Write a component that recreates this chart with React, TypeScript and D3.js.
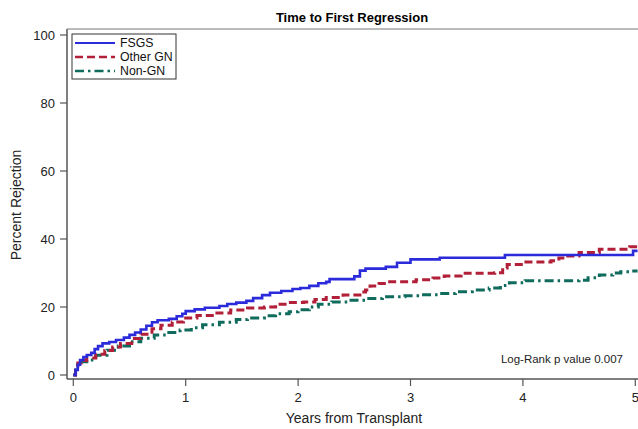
// App.tsx
import React, { useEffect, useRef } from 'react';
import * as d3 from 'd3';

// years since transplant / cumulative percent
const fsgsYears = [0, 0.02, 0.04, 0.06, 0.09, 0.12, 0.16, 0.19, 0.22, 0.26, 0.32, 0.38, 0.45, 0.5, 0.55, 0.6, 0.65, 0.7, 0.75, 0.85, 0.92, 0.97, 1.0, 1.08, 1.17, 1.3, 1.37, 1.45, 1.54, 1.6, 1.68, 1.75, 1.85, 1.95, 2.02, 2.1, 2.18, 2.25, 2.28, 2.5, 2.55, 2.6, 2.78, 2.88, 3.0, 3.26, 3.84, 4.98, 5.02];
const fsgsPct = [0, 1.5, 3.0, 4.4, 5.3, 5.9, 6.5, 7.6, 8.5, 9.3, 9.7, 10.3, 11.0, 11.8, 12.5, 13.4, 14.5, 15.5, 16.1, 16.5, 17.3, 18.0, 18.8, 19.3, 19.8, 20.3, 20.9, 21.3, 21.8, 22.6, 23.5, 24.2, 24.7, 25.3, 25.6, 26.2, 27.0, 27.4, 28.2, 29.0, 30.7, 31.3, 31.8, 33.0, 34.0, 34.5, 35.3, 36.5, 36.5];

const otherYears = [0, 0.02, 0.04, 0.07, 0.12, 0.2, 0.28, 0.35, 0.42, 0.52, 0.6, 0.7, 0.78, 0.88, 0.98, 1.1, 1.25, 1.4, 1.55, 1.7, 1.8, 1.9, 2.05, 2.15, 2.25, 2.4, 2.55, 2.6, 2.64, 2.72, 2.8, 3.05, 3.2, 3.3, 3.45, 3.75, 3.82, 3.86, 4.0, 4.25, 4.32, 4.38, 4.5, 4.68, 4.95, 5.02];
const otherPct = [0, 1.8, 3.5, 4.3, 5.0, 6.1, 7.2, 8.2, 9.3, 10.7, 12.0, 13.6, 14.6, 15.6, 16.8, 17.5, 18.2, 19.1, 19.7, 20.0, 20.8, 21.3, 21.5, 22.2, 22.8, 23.5, 24.4, 25.0, 26.2, 26.9, 27.4, 28.0, 28.5, 29.1, 29.9, 30.1, 31.5, 32.5, 33.2, 33.6, 34.4, 35.0, 36.0, 37.0, 37.7, 37.7];

const nonGnYears = [0, 0.02, 0.04, 0.07, 0.12, 0.2, 0.3, 0.4, 0.5, 0.6, 0.72, 0.85, 0.95, 1.05, 1.15, 1.3, 1.45, 1.55, 1.7, 1.8, 1.92, 2.0, 2.1, 2.18, 2.3, 2.45, 2.6, 2.75, 2.95, 3.1, 3.25, 3.4, 3.55, 3.7, 3.8, 3.88, 4.02, 4.18, 4.5, 4.58, 4.68, 4.8, 4.87, 4.97, 5.02];
const nonGnPct = [0, 1.5, 3.0, 3.9, 4.4, 5.8, 7.3, 8.5, 9.8, 10.8, 11.8, 12.5, 13.2, 13.9, 14.8, 15.5, 16.3, 16.8, 17.4, 18.0, 18.6, 19.2, 20.0, 20.8, 21.5, 22.0, 22.5, 23.0, 23.3, 23.6, 24.0, 24.5, 25.0, 25.6, 26.3, 27.1, 27.7, 27.7, 27.9, 28.6, 29.4, 30.0, 30.4, 30.6, 30.6];

const groupNames = ['FSGS', 'Other GN', 'Non-GN'];
const xTicks = [0, 1, 2, 3, 4, 5];
const yTicks = [0, 20, 40, 60, 80, 100];

const App = () => {
  const svgRef = useRef(null);

  useEffect(() => {
    const width = 638;
    const height = 429;
    const font = 'Liberation Sans, Arial, sans-serif';
    const axisColor = '#555';

    const svg = d3.select(svgRef.current);
    svg.selectAll('*').remove();
    svg.attr('width', width).attr('height', height);

    const x = d3.scaleLinear().domain([0, 5]).range([73.3, 635.3]);
    const y = d3.scaleLinear().domain([0, 100]).range([375, 35]);

    const series = [
      { name: groupNames[0], t: fsgsYears, v: fsgsPct, color: '#2b2bdc', width: 2.6, dash: null },
      { name: groupNames[1], t: otherYears, v: otherPct, color: '#b11f38', width: 3, dash: '8,4' },
      { name: groupNames[2], t: nonGnYears, v: nonGnPct, color: '#0f6b5c', width: 3, dash: '9,4,2.5,4' },
    ];

    // title
    svg.append('text')
      .attr('x', 352).attr('y', 22)
      .attr('text-anchor', 'middle')
      .attr('font-family', font).attr('font-size', 13).attr('font-weight', 'bold')
      .text('Time to First Regression');

    // frame: left axis, bottom axis, top border
    const left = 67;
    const bottom = 379;
    const top = 29;
    svg.append('line').attr('x1', left).attr('x2', left).attr('y1', top).attr('y2', bottom)
      .attr('stroke', axisColor).attr('stroke-width', 1.5);
    svg.append('line').attr('x1', left).attr('x2', width).attr('y1', bottom).attr('y2', bottom)
      .attr('stroke', axisColor).attr('stroke-width', 1.5);
    svg.append('line').attr('x1', left).attr('x2', width).attr('y1', top).attr('y2', top)
      .attr('stroke', '#777').attr('stroke-width', 1);

    // y ticks
    const yg = svg.append('g');
    yTicks.forEach(d => {
      yg.append('line').attr('x1', left - 7).attr('x2', left).attr('y1', y(d)).attr('y2', y(d))
        .attr('stroke', axisColor).attr('stroke-width', 1.2);
      yg.append('text').attr('x', left - 12).attr('y', y(d)).attr('dy', '0.35em')
        .attr('text-anchor', 'end').attr('font-family', font).attr('font-size', 13)
        .attr('fill', '#222').text(d);
    });

    // x ticks
    const xg = svg.append('g');
    xTicks.forEach(d => {
      xg.append('line').attr('x1', x(d)).attr('x2', x(d)).attr('y1', bottom).attr('y2', bottom + 7)
        .attr('stroke', axisColor).attr('stroke-width', 1.2);
      xg.append('text').attr('x', x(d)).attr('y', 402)
        .attr('text-anchor', 'middle').attr('font-family', font).attr('font-size', 13)
        .attr('fill', '#222').text(d);
    });

    // axis labels
    svg.append('text').attr('x', 354).attr('y', 423)
      .attr('text-anchor', 'middle').attr('font-family', font).attr('font-size', 14)
      .attr('fill', '#222').text('Years from Transplant');
    svg.append('text').attr('transform', 'translate(21,205) rotate(-90)')
      .attr('text-anchor', 'middle').attr('font-family', font).attr('font-size', 14)
      .attr('fill', '#222').text('Percent Rejection');

    // curves
    const line = d3.line()
      .x(d => x(d[0]))
      .y(d => y(d[1]))
      .curve(d3.curveStepAfter);

    series.slice().reverse().forEach(s => {
      const pts = s.t.map((t, i) => [t, s.v[i]]);
      const path = svg.append('path')
        .attr('d', line(pts))
        .attr('fill', 'none')
        .attr('stroke', s.color)
        .attr('stroke-width', s.width)
        .attr('stroke-linejoin', 'miter');
      if (s.dash) path.attr('stroke-dasharray', s.dash);
    });

    // legend
    const lg = svg.append('g');
    lg.append('rect').attr('x', 72).attr('y', 34).attr('width', 104).attr('height', 45)
      .attr('fill', 'white').attr('stroke', '#333').attr('stroke-width', 1);
    series.forEach((s, i) => {
      const ly = 43 + i * 14;
      const l = lg.append('line').attr('x1', 75).attr('x2', 115).attr('y1', ly).attr('y2', ly)
        .attr('stroke', s.color).attr('stroke-width', s.width - 0.5);
      if (s.dash) l.attr('stroke-dasharray', s.dash);
      lg.append('text').attr('x', 120).attr('y', ly).attr('dy', '0.35em')
        .attr('font-family', font).attr('font-size', 12.3).attr('fill', '#111').text(s.name);
    });

    // annotation
    svg.append('text').attr('x', 623).attr('y', 363)
      .attr('text-anchor', 'end').attr('font-family', font).attr('font-size', 11.5)
      .attr('fill', '#222').text('Log-Rank p value 0.007');
  }, []);

  return (
    <svg ref={svgRef} style={{ position: 'absolute', left: 0, top: 0 }}></svg>
  );
};

export default App;
